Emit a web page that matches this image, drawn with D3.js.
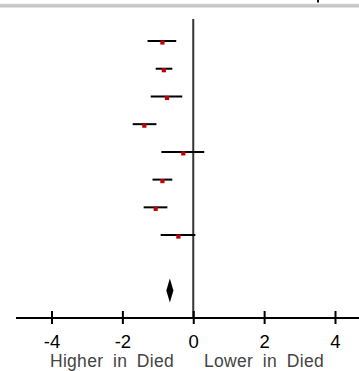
<!DOCTYPE html>
<html><head><meta charset="utf-8">
<script src="https://cdn.jsdelivr.net/npm/d3@7"></script>
<style>html,body{margin:0;padding:0;background:#fff;}svg{display:block;}</style>
</head><body>
<svg id="c" width="359" height="371"></svg>
<script>
const rows = [1, 2, 3, 4, 5, 6, 7, 8];
const estimates = [-0.87, -0.83, -0.74, -1.38, -0.28, -0.87, -1.06, -0.42];
const lower = [-1.29, -1.06, -1.20, -1.71, -0.90, -1.15, -1.40, -0.92];
const upper = [-0.48, -0.59, -0.31, -1.04, 0.31, -0.59, -0.73, 0.06];
const summaryRow = 10;
const summaryEst = -0.66, summaryLo = -0.76, summaryHi = -0.56;
const tickValues = [-4, -2, 0, 2, 4];
const tickLabels = ["-4", "-2", "0", "2", "4"];
const sideLabels = ["Higher in Died", "Lower in Died"];

const svg = d3.select("#c");
const x = d3.scaleLinear().domain([-4, 4]).range([51.5, 335]);
const y = d3.scaleLinear().domain([1, 10]).range([41, 290.5]);

// top grey band
svg.append("rect").attr("x", 0).attr("y", 4).attr("width", 359).attr("height", 3.5).attr("fill", "#c6c6c6");
svg.append("rect").attr("x", 0).attr("y", 3.5).attr("width", 359).attr("height", 0.8).attr("fill", "#e4e4e4");
svg.append("rect").attr("x", 317).attr("y", 0).attr("width", 2).attr("height", 2.5).attr("fill", "#111");

// reference line
svg.append("line").attr("x1", x(0)).attr("x2", x(0)).attr("y1", 19).attr("y2", 318)
  .attr("stroke", "#333").attr("stroke-width", 2);

// CI lines
svg.selectAll("line.ci").data(rows).join("line").attr("class", "ci")
  .attr("x1", (d, i) => x(lower[i])).attr("x2", (d, i) => x(upper[i]))
  .attr("y1", d => y(d)).attr("y2", d => y(d))
  .attr("stroke", "#000").attr("stroke-width", 2);

// squares
const sq = 4.2;
svg.selectAll("rect.pt").data(rows).join("rect").attr("class", "pt")
  .attr("x", (d, i) => x(estimates[i]) - sq / 2).attr("y", d => y(d) + 1.5 - sq / 2)
  .attr("width", sq).attr("height", sq).attr("fill", "#c00000");

// summary diamond
const cy = y(summaryRow);
svg.append("path")
  .attr("d", `M${x(summaryLo)},${cy} L${x(summaryEst)},${cy - 12} L${x(summaryHi)},${cy} L${x(summaryEst)},${cy + 12} Z`)
  .attr("fill", "#000");

// axis
const axisY = 318;
svg.append("line").attr("x1", 16).attr("x2", 359).attr("y1", axisY).attr("y2", axisY)
  .attr("stroke", "#000").attr("stroke-width", 2);
const ax = svg.append("g").attr("transform", `translate(0,${axisY})`)
  .call(d3.axisBottom(x).tickValues(tickValues).tickSize(6).tickFormat((d, i) => tickLabels[i]));
ax.select(".domain").remove();
ax.selectAll(".tick line").attr("y1", -7).attr("y2", 6).attr("stroke", "#000").attr("stroke-width", 2);
ax.selectAll(".tick text").attr("y", 29.5).attr("dy", null)
  .attr("font-family", "Liberation Sans, Arial, sans-serif").attr("font-size", 18.5).attr("fill", "#000");

// side labels
svg.append("text").attr("x", 112).attr("y", 367.2).attr("text-anchor", "middle")
  .attr("font-family", "Liberation Sans, Arial, sans-serif").attr("font-size", 17.5).attr("fill", "#444")
  .attr("word-spacing", 4.5).attr("letter-spacing", 0.3).text(sideLabels[0]);
svg.append("text").attr("x", 264).attr("y", 367.2).attr("text-anchor", "middle")
  .attr("font-family", "Liberation Sans, Arial, sans-serif").attr("font-size", 17.5).attr("fill", "#444")
  .attr("word-spacing", 4.5).attr("letter-spacing", 0.3).text(sideLabels[1]);
</script>
</body></html>
